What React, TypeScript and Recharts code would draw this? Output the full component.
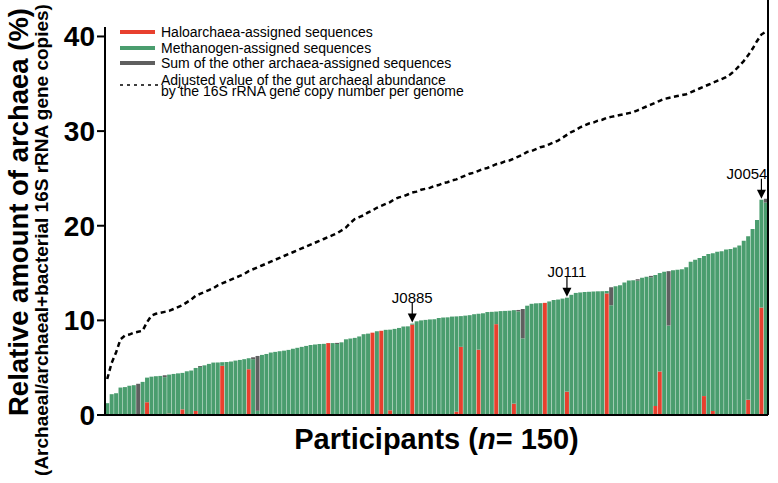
import React from 'react'
import { ComposedChart, Bar, Line, XAxis, YAxis, LabelList, Legend } from 'recharts'

const RED = '#e8402e'
const GREEN = '#4a9d6e'
const GREY = '#5f5f5f'
const FONT = '"Liberation Sans", Arial, Helvetica, sans-serif'

// total relative archaeal amount per participant (%), sorted as in the figure
const totals = [
  1.25, 2.2, 2.3, 2.9, 2.95, 3.1, 3.15, 3.3, 3.5, 3.95,
  4.05, 4.1, 4.13, 4.2, 4.27, 4.34, 4.4, 4.45, 4.62, 4.7,
  4.97, 5.18, 5.25, 5.4, 5.54, 5.55, 5.58, 5.6, 5.65, 5.75,
  5.82, 5.9, 6.0, 6.1, 6.24, 6.35, 6.45, 6.6, 6.67, 6.74,
  6.8, 6.88, 7.0, 7.1, 7.2, 7.3, 7.4, 7.45, 7.5, 7.52,
  7.6, 7.6, 7.62, 7.68, 8.0, 8.08, 8.15, 8.3, 8.54, 8.6,
  8.7, 8.85, 8.9, 9.0, 9.02, 9.1, 9.2, 9.35, 9.37, 9.66,
  9.9, 10.0, 10.05, 10.1, 10.12, 10.25, 10.3, 10.32, 10.4, 10.42,
  10.45, 10.5, 10.55, 10.65, 10.7, 10.75, 10.88, 10.9, 10.93, 10.98,
  11.0, 11.02, 11.08, 11.1, 11.2, 11.55, 11.75, 11.8, 11.82, 11.85,
  12.0, 12.15, 12.2, 12.3, 12.4, 12.7, 12.9, 12.95, 13.0, 13.02,
  13.05, 13.07, 13.08, 13.1, 13.5, 13.6, 13.7, 14.0, 14.2, 14.25,
  14.35, 14.5, 14.6, 14.7, 14.8, 15.0, 15.15, 15.2, 15.3, 15.35,
  15.4, 15.6, 16.2, 16.4, 16.6, 16.8, 17.0, 17.1, 17.25, 17.3,
  17.5, 17.55, 17.7, 17.9, 18.4, 18.9, 19.65, 20.6, 22.75, 22.85,
]

// adjusted abundance by 16S copy number (dashed line)
const adjusted = [
  3.8, 5.5, 6.6, 8.0, 8.4, 8.5, 8.7, 8.8, 8.9, 9.8,
  10.5, 10.7, 10.8, 10.9, 11.0, 11.2, 11.4, 11.6, 11.9, 12.2,
  12.6, 12.8, 13.0, 13.2, 13.4, 13.7, 13.9, 14.1, 14.3, 14.5,
  14.7, 14.9, 15.2, 15.4, 15.6, 15.8, 16.0, 16.2, 16.4, 16.6,
  16.8, 17.0, 17.2, 17.4, 17.6, 17.8, 18.0, 18.2, 18.4, 18.6,
  18.8, 19.0, 19.2, 19.5, 19.8, 20.3, 20.7, 20.9, 21.1, 21.4,
  21.6, 21.9, 22.1, 22.3, 22.5, 22.8, 23.0, 23.1, 23.3, 23.5,
  23.6, 23.8, 23.9, 24.0, 24.2, 24.3, 24.5, 24.6, 24.8, 24.9,
  25.1, 25.3, 25.5, 25.6, 25.8, 26.0, 26.1, 26.3, 26.5, 26.6,
  26.8, 26.9, 27.1, 27.3, 27.5, 27.8, 27.9, 28.1, 28.3, 28.4,
  28.6, 28.8, 29.0, 29.3, 29.6, 29.9, 30.1, 30.4, 30.6, 30.8,
  30.9, 31.1, 31.2, 31.4, 31.5, 31.6, 31.7, 31.8, 31.9, 32.0,
  32.2, 32.4, 32.6, 32.8, 33.0, 33.2, 33.4, 33.5, 33.6, 33.7,
  33.8, 33.9, 34.1, 34.3, 34.5, 34.7, 34.9, 35.1, 35.3, 35.5,
  35.7, 36.0, 36.4, 36.9, 37.4, 38.0, 38.7, 39.5, 40.2, 40.5,
]

// haloarchaea part (participant position -> value)
const haloIdx = [8, 9, 14, 17, 20, 26, 32, 38, 50, 55, 60, 62, 64, 68, 69, 79, 80, 84, 88, 89, 92, 96, 99, 104, 108, 113, 120, 124, 125, 135, 137, 145, 148]
const haloVal = [0.1, 1.35, 0.15, 0.6, 0.42, 5.2, 4.84, 0.12, 7.6, 0.1, 8.7, 8.9, 0.5, 0.1, 9.55, 0.35, 7.2, 6.9, 9.6, 0.1, 1.2, 0.1, 11.85, 2.47, 0.1, 12.85, 0.1, 0.95, 4.6, 2.0, 0.42, 1.6, 11.35]

// other archaea part
const otherIdx = [7, 13, 21, 33, 34, 52, 93, 94, 114, 120, 123, 127, 149]
const otherVal = [3.2, 0.2, 0.1, 0.2, 5.8, 0.12, 0.15, 3.1, 1.9, 0.15, 0.15, 5.75, 0.4]

const tagIdx = [69, 104, 148]
const tagNames = ['J0885', 'J0111', 'J0054']

const data = totals.map((t, i) => {
  const hi = haloIdx.indexOf(i)
  const oi = otherIdx.indexOf(i)
  const ti = tagIdx.indexOf(i)
  const halo = hi >= 0 ? haloVal[hi] : 0
  const other = oi >= 0 ? otherVal[oi] : 0
  return {
    id: i + 1,
    halo,
    methano: Math.max(0, +(t - halo - other).toFixed(2)),
    other,
    adjusted: adjusted[i],
    tag: ti >= 0 ? tagNames[ti] : '',
  }
})

// arrow + participant id above the tagged bars
const Tag = (props: any) => {
  const { x, y, width, value } = props
  if (!value) return null
  const cx = x + width / 2
  const tip = y - 1
  const nearEdge = cx + 20 > 768
  return (
    <g>
      <line x1={cx} x2={cx} y1={tip - 20} y2={tip - 7} stroke="#000" strokeWidth={1.2} />
      <path d={`M${cx - 4.5},${tip - 9} L${cx + 4.5},${tip - 9} L${cx},${tip} Z`} fill="#000" />
      <text
        x={nearEdge ? cx + 6 : cx}
        y={tip - 25}
        textAnchor={nearEdge ? 'end' : 'middle'}
        dominantBaseline="central"
        fontSize={15}
        fontFamily={FONT}
        fill="#000"
      >
        {value}
      </text>
    </g>
  )
}

const YTitle = () => (
  <g fontFamily={FONT} fontWeight={700} fill="#000">
    <text x={18} y={212} transform="rotate(-90, 18, 212)" textAnchor="middle" dominantBaseline="central" fontSize={27.5}>
      Relative amount of archaea (%)
    </text>
    <text x={41} y={240} transform="rotate(-90, 41, 240)" textAnchor="middle" dominantBaseline="central" fontSize={19}>
      (Archaeal/archaeal+bacterial 16S rRNA gene copies)
    </text>
  </g>
)

const XTitle = (props: any) => {
  const vb = props.viewBox
  return (
    <text x={vb.x + vb.width / 2} y={449} textAnchor="middle" fontFamily={FONT} fontWeight={700} fontSize={29} fill="#000">
      Participants (<tspan fontStyle="italic">n</tspan>= 150)
    </text>
  )
}

const legendItems = [
  { name: 'Haloarchaea-assigned sequences', color: RED },
  { name: 'Methanogen-assigned sequences', color: GREEN },
  { name: 'Sum of the other archaea-assigned sequences', color: GREY },
]

const textStyle: React.CSSProperties = { position: 'absolute', left: 41, height: 16, lineHeight: '16px', whiteSpace: 'nowrap' }
const tightStyle: React.CSSProperties = { ...textStyle, height: 10, lineHeight: '10px' }

const LegendBox = () => (
  <div style={{ position: 'relative', width: 360, height: 76, fontFamily: FONT, fontSize: 14, color: '#000' }}>
    {legendItems.map((it, i) => (
      <React.Fragment key={it.name}>
        <div style={{ position: 'absolute', left: 0, top: 6 + i * 15.5, width: 35, height: 4, background: it.color }} />
        <div style={{ ...textStyle, top: i * 15.5 }}>{it.name}</div>
      </React.Fragment>
    ))}
    <svg style={{ position: 'absolute', left: 0, top: 59 }} width={38} height={4}>
      <line x1={0} x2={38} y1={2} y2={2} stroke="#000" strokeWidth={1.3} strokeDasharray="3 4" />
    </svg>
    <div style={{ ...tightStyle, top: 51 }}>Adjusted value of the gut archaeal abundance</div>
    <div style={{ ...tightStyle, top: 61.5 }}>by the 16S rRNA gene copy number per genome</div>
  </div>
)

export default function App() {
  return (
    <div style={{ position: 'absolute', left: 0, top: 0, width: 778, height: 483, background: '#fff' }}>
      <ComposedChart
        width={778}
        height={483}
        data={data}
        margin={{ top: 27, right: 0, bottom: 0, left: 0 }}
        barCategoryGap="6%"
      >
        <XAxis
          dataKey="id"
          tick={false}
          tickLine={false}
          axisLine={{ stroke: '#000', strokeWidth: 2 }}
          height={68}
          label={(p: any) => <XTitle {...p} />}
        />
        <YAxis
          yAxisId="l"
          domain={[0, 41]}
          ticks={[0, 10, 20, 30, 40]}
          width={105}
          tickSize={8}
          tick={{ fill: '#000', fontSize: 28, fontWeight: 700, fontFamily: FONT }}
          axisLine={{ stroke: '#000', strokeWidth: 2 }}
          tickLine={{ stroke: '#000', strokeWidth: 2 }}
          label={() => <YTitle />}
        />
        <YAxis
          yAxisId="r"
          orientation="right"
          domain={[0, 41]}
          ticks={[10, 20]}
          width={10}
          tickSize={7}
          tickFormatter={() => ''}
          axisLine={{ stroke: '#000', strokeWidth: 2 }}
          tickLine={{ stroke: '#000', strokeWidth: 2 }}
        />
        <Bar yAxisId="l" dataKey="halo" stackId="a" fill={RED} isAnimationActive={false} />
        <Bar yAxisId="l" dataKey="methano" stackId="a" fill={GREEN} isAnimationActive={false}>
          <LabelList dataKey="tag" content={Tag} />
        </Bar>
        <Bar yAxisId="l" dataKey="other" stackId="a" fill={GREY} isAnimationActive={false} />
        <Line
          yAxisId="l"
          dataKey="adjusted"
          type="linear"
          stroke="#000"
          strokeWidth={2.5}
          strokeDasharray="5 3.5"
          dot={false}
          isAnimationActive={false}
        />
        <Legend
          layout="horizontal"
          verticalAlign="middle"
          align="center"
          content={() => <LegendBox />}
          wrapperStyle={{ position: 'absolute', left: 120, top: 24, width: 360 }}
        />
      </ComposedChart>
      <div style={{ position: 'absolute', left: 767, top: 0, width: 2, height: 28, background: '#000' }} />
    </div>
  )
}
